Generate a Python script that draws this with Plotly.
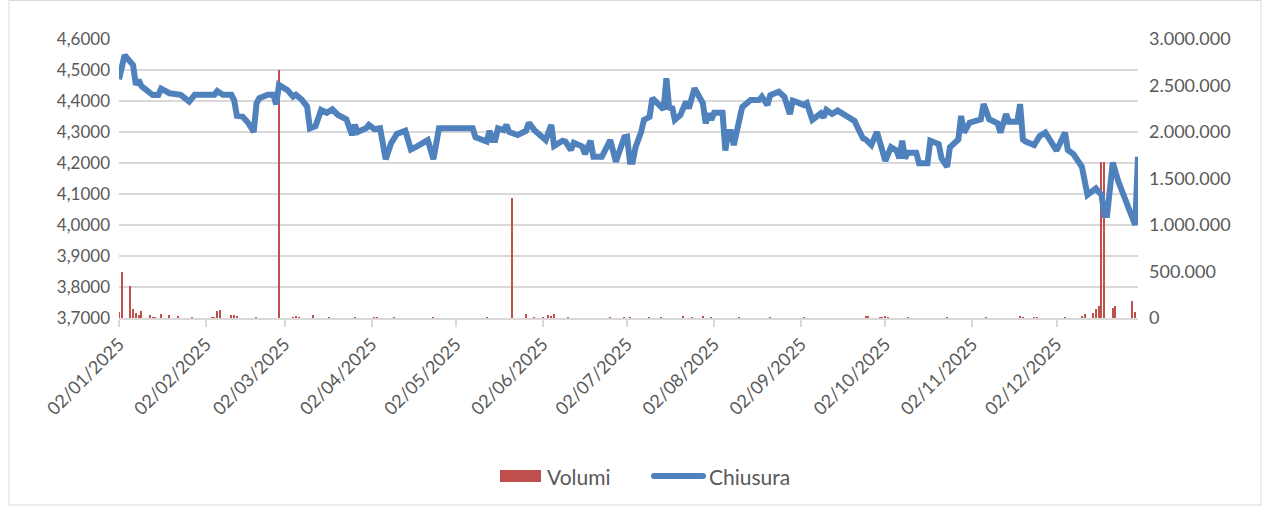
import plotly.graph_objects as go

# ---- Data ----
close_dates = [
    "2025-01-02", "2025-01-04", "2025-01-07", "2025-01-08", "2025-01-09", "2025-01-10", "2025-01-14", "2025-01-16",
    "2025-01-17", "2025-01-20", "2025-01-24", "2025-01-27", "2025-01-29", "2025-02-05", "2025-02-06", "2025-02-08",
    "2025-02-11", "2025-02-12", "2025-02-13", "2025-02-15", "2025-02-17", "2025-02-19", "2025-02-20", "2025-02-21",
    "2025-02-24", "2025-02-26", "2025-02-27", "2025-02-28", "2025-03-03", "2025-03-05", "2025-03-06", "2025-03-08",
    "2025-03-10", "2025-03-11", "2025-03-13", "2025-03-15", "2025-03-17", "2025-03-19", "2025-03-21", "2025-03-24",
    "2025-03-26", "2025-03-27", "2025-03-28", "2025-03-31", "2025-04-01", "2025-04-03", "2025-04-05", "2025-04-07",
    "2025-04-09", "2025-04-11", "2025-04-14", "2025-04-16", "2025-04-18", "2025-04-22", "2025-04-24", "2025-04-26",
    "2025-05-03", "2025-05-08", "2025-05-09", "2025-05-13", "2025-05-14", "2025-05-15", "2025-05-16", "2025-05-17",
    "2025-05-19", "2025-05-20", "2025-05-21", "2025-05-24", "2025-05-27", "2025-05-28", "2025-05-30", "2025-06-03",
    "2025-06-05", "2025-06-06", "2025-06-09", "2025-06-10", "2025-06-12", "2025-06-13", "2025-06-16", "2025-06-17",
    "2025-06-19", "2025-06-20", "2025-06-23", "2025-06-26", "2025-06-28", "2025-07-01", "2025-07-02", "2025-07-03",
    "2025-07-04", "2025-07-05", "2025-07-07", "2025-07-08", "2025-07-10", "2025-07-11", "2025-07-14", "2025-07-15",
    "2025-07-16", "2025-07-17", "2025-07-18", "2025-07-19", "2025-07-21", "2025-07-23", "2025-07-24", "2025-07-26",
    "2025-07-29", "2025-07-30", "2025-07-31", "2025-08-01", "2025-08-02", "2025-08-05", "2025-08-06", "2025-08-07",
    "2025-08-08", "2025-08-09", "2025-08-12", "2025-08-13", "2025-08-15", "2025-08-18", "2025-08-19", "2025-08-21",
    "2025-08-22", "2025-08-25", "2025-08-27", "2025-08-29", "2025-08-30", "2025-08-31", "2025-09-03", "2025-09-04",
    "2025-09-06", "2025-09-09", "2025-09-10", "2025-09-11", "2025-09-13", "2025-09-15", "2025-09-18", "2025-09-21",
    "2025-09-22", "2025-09-24", "2025-09-25", "2025-09-27", "2025-09-29", "2025-10-02", "2025-10-04", "2025-10-06",
    "2025-10-07", "2025-10-08", "2025-10-09", "2025-10-10", "2025-10-13", "2025-10-14", "2025-10-17", "2025-10-18",
    "2025-10-21", "2025-10-22", "2025-10-24", "2025-10-25", "2025-10-28", "2025-10-29", "2025-10-30", "2025-11-01",
    "2025-11-05", "2025-11-06", "2025-11-08", "2025-11-11", "2025-11-12", "2025-11-14", "2025-11-15", "2025-11-18",
    "2025-11-19", "2025-11-20", "2025-11-21", "2025-11-24", "2025-11-26", "2025-11-28", "2025-12-02", "2025-12-05",
    "2025-12-06", "2025-12-08", "2025-12-11", "2025-12-13", "2025-12-16", "2025-12-18", "2025-12-19", "2025-12-20",
    "2025-12-22", "2025-12-24", "2025-12-30", "2025-12-31",
]
close_values = [
    4.470, 4.548, 4.516, 4.452, 4.468, 4.448, 4.419, 4.419,
    4.440, 4.425, 4.420, 4.398, 4.420, 4.420, 4.432, 4.420,
    4.420, 4.403, 4.352, 4.350, 4.330, 4.300, 4.393, 4.409,
    4.420, 4.420, 4.389, 4.452, 4.435, 4.414, 4.420, 4.405,
    4.382, 4.312, 4.319, 4.371, 4.362, 4.373, 4.355, 4.341,
    4.290, 4.323, 4.300, 4.312, 4.323, 4.309, 4.312, 4.212,
    4.265, 4.294, 4.304, 4.244, 4.253, 4.274, 4.212, 4.312,
    4.312, 4.312, 4.283, 4.269, 4.304, 4.274, 4.274, 4.312,
    4.306, 4.323, 4.300, 4.290, 4.304, 4.330, 4.306, 4.274,
    4.323, 4.255, 4.272, 4.269, 4.242, 4.265, 4.253, 4.229,
    4.272, 4.220, 4.220, 4.274, 4.204, 4.283, 4.285, 4.204,
    4.204, 4.251, 4.300, 4.339, 4.349, 4.409, 4.382, 4.373,
    4.473, 4.373, 4.382, 4.339, 4.355, 4.398, 4.376, 4.441,
    4.393, 4.328, 4.360, 4.339, 4.362, 4.362, 4.240, 4.300,
    4.300, 4.258, 4.380, 4.387, 4.403, 4.403, 4.414, 4.387,
    4.419, 4.430, 4.414, 4.358, 4.401, 4.398, 4.387, 4.393,
    4.339, 4.360, 4.347, 4.371, 4.358, 4.369, 4.355, 4.336,
    4.317, 4.280, 4.276, 4.258, 4.300, 4.207, 4.251, 4.240,
    4.215, 4.272, 4.215, 4.233, 4.233, 4.199, 4.199, 4.272,
    4.261, 4.215, 4.188, 4.251, 4.276, 4.352, 4.298, 4.330,
    4.341, 4.390, 4.341, 4.328, 4.298, 4.358, 4.333, 4.333,
    4.390, 4.276, 4.269, 4.258, 4.287, 4.298, 4.240, 4.298,
    4.242, 4.229, 4.188, 4.097, 4.118, 4.097, 4.032, 4.032,
    4.201, 4.140, 4.000, 4.220,
]

volume_dates = [
    "2025-01-02", "2025-01-03", "2025-01-06", "2025-01-07", "2025-01-08", "2025-01-09", "2025-01-10", "2025-01-13",
    "2025-01-14", "2025-01-15", "2025-01-17", "2025-01-20", "2025-01-23", "2025-01-28",
    "2025-02-04", "2025-02-05", "2025-02-06", "2025-02-07", "2025-02-11", "2025-02-12", "2025-02-13", "2025-02-20",
    "2025-02-28",
    "2025-03-05", "2025-03-06", "2025-03-07", "2025-03-12", "2025-03-18", "2025-03-27",
    "2025-04-03", "2025-04-04", "2025-04-10", "2025-04-24",
    "2025-05-13", "2025-05-22", "2025-05-27", "2025-05-30",
    "2025-06-02", "2025-06-04", "2025-06-05", "2025-06-06", "2025-06-11", "2025-06-26",
    "2025-07-01", "2025-07-03", "2025-07-10", "2025-07-14", "2025-07-22", "2025-07-25", "2025-07-29",
    "2025-08-01", "2025-08-11", "2025-08-22",
    "2025-09-03", "2025-09-25", "2025-09-26", "2025-09-30",
    "2025-10-01", "2025-10-02", "2025-10-03", "2025-10-10", "2025-10-24",
    "2025-11-07", "2025-11-19", "2025-11-20", "2025-11-24", "2025-11-25",
    "2025-12-05", "2025-12-11", "2025-12-12", "2025-12-15", "2025-12-16", "2025-12-17", "2025-12-18", "2025-12-19",
    "2025-12-22", "2025-12-23", "2025-12-29", "2025-12-30",
]
volume_values = [
    64000, 500000, 340000, 97000, 54000, 29000, 79000, 29000,
    8000, 8000, 43000, 29000, 14000, 8000,
    10000, 10000, 79000, 90000, 36000, 29000, 11000, 5000,
    2670000,
    10000, 12000, 8000, 29000, 8000, 10000,
    6000, 10000, 5000, 6000,
    5000, 1295000, 43000, 10000,
    10000, 30000, 25000, 40000, 5000, 8000,
    5000, 8000, 6000, 5000, 15000, 8000, 12000,
    6000, 5000, 10000,
    5000, 12000, 15000, 8000,
    10000, 15000, 10000, 6000, 5000,
    5000, 12000, 8000, 10000, 5000,
    6000, 15000, 43000, 53000, 97000, 124000, 1680000, 1680000,
    110000, 132000, 180000, 66000,
]

tick_dates = ["2025-01-02", "2025-02-02", "2025-03-02", "2025-04-02", "2025-05-02", "2025-06-02",
              "2025-07-02", "2025-08-02", "2025-09-02", "2025-10-02", "2025-11-02", "2025-12-02"]
tick_labels = [d[8:10] + "/" + d[5:7] + "/" + d[0:4] for d in tick_dates]

price_ticks = [3.7, 3.8, 3.9, 4.0, 4.1, 4.2, 4.3, 4.4, 4.5, 4.6]
volume_ticks = [0, 500000, 1000000, 1500000, 2000000, 2500000, 3000000]

series_names = ["Volumi", "Chiusura"]

FONT = "Lato, Carlito, 'Open Sans', sans-serif"
TXT = "#595959"
GRID = "#D9D9D9"
RED = "#C0504D"
BLUE = "#4F81BD"

W, H = 1263, 507
ML, MR, MT, MB = 119, 125, 39, 189
PW, PH = W - ML - MR, H - MT - MB


def px(x):
    return (x - ML) / PW


def py(y):
    return (H - MB - y) / PH


fig = go.Figure()
fig.add_trace(go.Bar(
    x=volume_dates, y=volume_values, name=series_names[0],
    marker=dict(color=RED, line=dict(width=0)),
    width=0.45 * 86400000, yaxis="y", showlegend=False,
))
fig.add_trace(go.Scatter(
    x=close_dates, y=close_values, name=series_names[1], mode="lines",
    line=dict(color=BLUE, width=6), yaxis="y2", showlegend=False,
))

# Legend drawn manually (Excel style: wide rectangle for bars, thick line for the series)
legend_y = 476
shapes = [
    dict(type="rect", xref="paper", yref="paper",
         x0=px(9), x1=px(1261), y0=py(505), y1=py(0.5),
         line=dict(color=GRID, width=1), fillcolor="rgba(0,0,0,0)", layer="below"),
    dict(type="rect", xref="paper", yref="paper",
         x0=px(500), x1=px(541), y0=py(legend_y + 6), y1=py(legend_y - 6),
         line=dict(width=0), fillcolor=RED),
    dict(type="line", xref="paper", yref="paper",
         x0=px(654), x1=px(703), y0=py(legend_y), y1=py(legend_y),
         line=dict(color=BLUE, width=6)),
    dict(type="circle", xref="paper", yref="paper",
         x0=px(651), x1=px(657), y0=py(legend_y + 3), y1=py(legend_y - 3),
         line=dict(width=0), fillcolor=BLUE),
    dict(type="circle", xref="paper", yref="paper",
         x0=px(700), x1=px(706), y0=py(legend_y + 3), y1=py(legend_y - 3),
         line=dict(width=0), fillcolor=BLUE),
]
annotations = [
    dict(text=series_names[0], xref="paper", yref="paper", x=px(545), y=py(legend_y),
         xanchor="left", yanchor="middle", showarrow=False,
         font=dict(family=FONT, size=21, color=TXT)),
    dict(text=series_names[1], xref="paper", yref="paper", x=px(707), y=py(legend_y),
         xanchor="left", yanchor="middle", showarrow=False,
         font=dict(family=FONT, size=21, color=TXT)),
]

fig.update_layout(
    width=W, height=H,
    margin=dict(l=ML, r=MR, t=MT, b=MB, autoexpand=False),
    paper_bgcolor="white", plot_bgcolor="white",
    separators=",.",
    font=dict(family=FONT, size=17, color=TXT),
    showlegend=False,
    bargap=0,
    xaxis=dict(
        type="date", range=["2025-01-02", "2025-12-31"],
        tickmode="array", tickvals=tick_dates, ticktext=tick_labels, tickangle=-45,
        ticks="outside", ticklen=7, tickcolor=GRID, tickwidth=1.5,
        showline=True, linecolor=GRID, linewidth=1.5,
        showgrid=False, zeroline=False,
        tickfont=dict(family=FONT, size=18, color=TXT),
    ),
    yaxis=dict(
        side="right", range=[0, 3000000], tickmode="array", tickvals=volume_ticks,
        tickformat=",d", showgrid=False, zeroline=False, showline=False, ticks="",
        ticklabelstandoff=10,
        tickfont=dict(family=FONT, size=18, color=TXT),
    ),
    yaxis2=dict(
        side="left", overlaying="y", range=[3.7, 4.6], tickmode="array", tickvals=price_ticks,
        tickformat=".4f", showgrid=True, gridcolor=GRID, gridwidth=1.5, zeroline=False,
        showline=False, ticks="", ticklabelstandoff=8,
        tickfont=dict(family=FONT, size=17, color=TXT),
    ),
    shapes=shapes,
    annotations=annotations,
)

fig.write_html("out.html", config={"displayModeBar": False},
               post_script="document.body.style.margin='0px';document.body.style.overflow='hidden';")
